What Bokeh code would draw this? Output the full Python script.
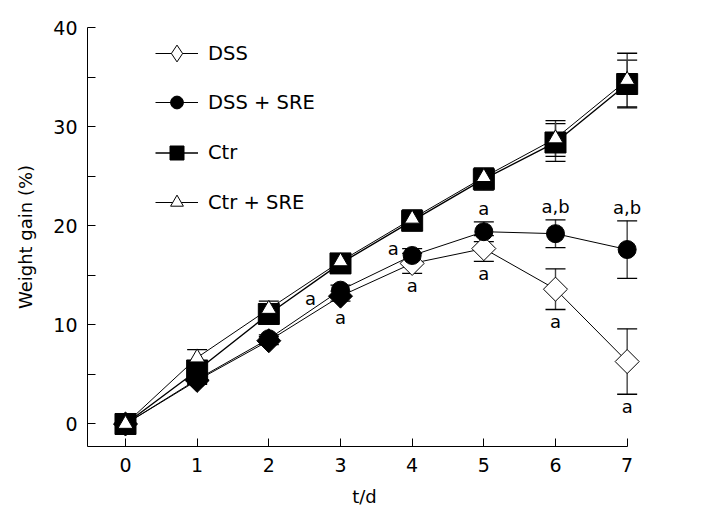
import numpy as np
from bokeh.plotting import figure
from bokeh.models import (ColumnDataSource, Whisker, TeeHead, FixedTicker,
                          Legend, LegendItem, Range1d)
from bokeh.core.properties import value
from bokeh.embed import file_html
from bokeh.resources import INLINE

# ---------------- data ----------------
days = [0, 1, 2, 3, 4, 5, 6, 7]
dss = [0, 4.4, 8.4, 12.9, 16.2, 17.7, 13.6, 6.3]
dss_err = [0, 0.4, 0.4, 0.5, 1.0, 1.3, 2.05, 3.3]
dss_sre = [0, 4.5, 8.6, 13.5, 17.0, 19.4, 19.2, 17.6]
dss_sre_err = [0, 0.4, 0.4, 0.5, 0.7, 1.0, 1.4, 2.9]
ctr = [0, 5.4, 11.1, 16.2, 20.5, 24.7, 28.4, 34.3]
ctr_err = [0, 0.6, 0.8, 0.6, 1.0, 1.1, 1.9, 2.4]
ctr_sre = [0, 6.7, 11.6, 16.4, 20.7, 24.9, 28.8, 34.7]
ctr_sre_err = [0, 0.8, 0.8, 0.6, 0.9, 0.9, 1.8, 2.7]

series_names = ["DSS", "DSS + SRE", "Ctr", "Ctr + SRE"]

# significance marks
sig_days = [3, 3, 4, 4, 5, 5, 6, 6, 7, 7]
sig_series = ["DSS + SRE", "DSS", "DSS + SRE", "DSS", "DSS + SRE", "DSS",
              "DSS + SRE", "DSS", "DSS + SRE", "DSS"]
sig_labels = ["a", "a", "a", "a", "a", "a", "a,b", "a", "a,b", "a"]
sig_place = ["left_low", "below_pt", "left_high", "below", "above", "below",
             "above", "below", "above", "below"]

x_ticks = [0, 1, 2, 3, 4, 5, 6, 7]
y_ticks = [0, 10, 20, 30, 40]
y_minor = [5, 15, 25, 35]

FONT = "DejaVu Sans"
X_LO, X_AXIS_END, X_HI = -0.53, 7.0, 7.2
Y_LO, Y_HI = -2.27, 40.0

p = figure(frame_width=554, frame_height=419, output_backend="svg",
           toolbar_location=None, min_border_left=87, min_border_top=27,
           min_border_right=40, min_border_bottom=66,
           x_range=Range1d(X_LO, X_HI), y_range=Range1d(Y_LO, Y_HI))
p.outline_line_color = None
p.grid.visible = False
p.background_fill_color = "white"
p.border_fill_color = "white"

# axes
p.xaxis.ticker = FixedTicker(ticks=x_ticks)
p.yaxis.ticker = FixedTicker(ticks=y_ticks, minor_ticks=y_minor)
p.xaxis.bounds = (X_LO, X_AXIS_END)
for ax in (p.xaxis, p.yaxis):
    ax.axis_line_color = "black"
    ax.axis_line_width = 1
    ax.major_tick_line_color = "black"
    ax.major_tick_in = 8
    ax.major_tick_out = 0
    ax.major_label_text_font = FONT
    ax.major_label_text_font_size = "19px"
    ax.major_label_text_color = "black"
    ax.axis_label_text_font = FONT
    ax.axis_label_text_font_size = "18px"
    ax.axis_label_text_font_style = "normal"
    ax.axis_label_text_color = "black"
p.xaxis.minor_tick_line_color = None
p.yaxis.minor_tick_line_color = "black"
p.yaxis.minor_tick_in = 8
p.yaxis.minor_tick_out = 0
p.xaxis.major_label_standoff = 11
p.yaxis.major_label_standoff = 10
p.yaxis.axis_label = "Weight gain (%)"
p.yaxis.axis_label_standoff = 14
p.xaxis.axis_label = "t/d"
p.xaxis.axis_label_standoff = 11

means = {"DSS": dss, "DSS + SRE": dss_sre, "Ctr": ctr, "Ctr + SRE": ctr_sre}
errs = {"DSS": dss_err, "DSS + SRE": dss_sre_err, "Ctr": ctr_err,
        "Ctr + SRE": ctr_sre_err}

# error bars
for name in series_names:
    m = np.array(means[name]); e = np.array(errs[name]); d = np.array(days)
    keep = e > 0
    src = ColumnDataSource(dict(x=d[keep], upper=(m + e)[keep], lower=(m - e)[keep]))
    w = Whisker(base="x", upper="upper", lower="lower", source=src,
                line_color="#444444", line_width=1.4,
                upper_head=TeeHead(size=20, line_color="black", line_width=1.3),
                lower_head=TeeHead(size=20, line_color="black", line_width=1.3))
    p.add_layout(w)

# lines
lines = {}
for name in series_names:
    lines[name] = p.line(days, means[name], line_color="black",
                         line_width=1.4 if name == "Ctr" else 1.0)

# markers
dss_fill = ["black"] * 4 + ["white"] * 4
src_dss = ColumnDataSource(dict(x=days, y=dss, fill=dss_fill))
m_dss = p.scatter("x", "y", source=src_dss, marker="square", angle=np.pi / 4,
                  size=17, fill_color="fill", line_color="black", line_width=1)
m_dsssre = p.scatter(days, dss_sre, marker="circle", size=18,
                     fill_color="black", line_color="black")
m_ctr = p.scatter(days, ctr, marker="square", size=21,
                  fill_color="black", line_color="black")
m_ctrsre = p.scatter(days, ctr_sre, marker="triangle", size=15,
                     fill_color="white", line_color="black", line_width=1)
# legend-only diamond symbol (legend glyphs are never rotated); its single
# point is NaN so it draws nothing inside the plot
leg_dss = p.scatter(x=[float("nan")], y=[float("nan")], marker="diamond",
                    fill_color="white", line_color="black", line_width=1)

# significance labels
offsets = {"left_low": (-30, 8, "mean"), "left_high": (-19, -7, "mean"),
           "below_pt": (0, 21, "mean"), "below": (0, 12, "low"),
           "above": (0, -13, "high")}
sx, sy, xo, yo = [], [], [], []
for d, s, pl in zip(sig_days, sig_series, sig_place):
    i = days.index(d)
    dx, dy, ref = offsets[pl]
    base = means[s][i]
    if ref == "low":
        base -= errs[s][i]
    elif ref == "high":
        base += errs[s][i]
    sx.append(d); sy.append(base); xo.append(dx); yo.append(dy)
p.text(x=sx, y=sy, text=sig_labels, x_offset=xo, y_offset=yo,
       text_align="center", text_baseline="middle",
       text_font=value(FONT), text_font_size="18px", text_color="black")

# legends: one per entry so each symbol gets its own size
FRAME_H = 419
entries = [("DSS", [lines["DSS"], leg_dss], 42, 53),
           ("DSS + SRE", [lines["DSS + SRE"], m_dsssre], 32, 102),
           ("Ctr", [lines["Ctr"], m_ctr], 35, 152),
           ("Ctr + SRE", [lines["Ctr + SRE"], m_ctrsre], 32, 202)]
for label, rends, gh, cy in entries:
    lg = Legend(items=[LegendItem(label=label, renderers=rends)],
                location=(68, FRAME_H - (cy - 27) - gh / 2))
    lg.glyph_width = 43
    lg.glyph_height = gh
    lg.label_height = gh
    lg.padding = 0
    lg.margin = 0
    lg.label_standoff = 10
    lg.label_text_font = FONT
    lg.label_text_font_size = "19.5px"
    lg.label_text_color = "black"
    lg.border_line_color = None
    lg.background_fill_alpha = 0
    p.add_layout(lg)

open("out.html", "w").write(file_html(p, INLINE))
